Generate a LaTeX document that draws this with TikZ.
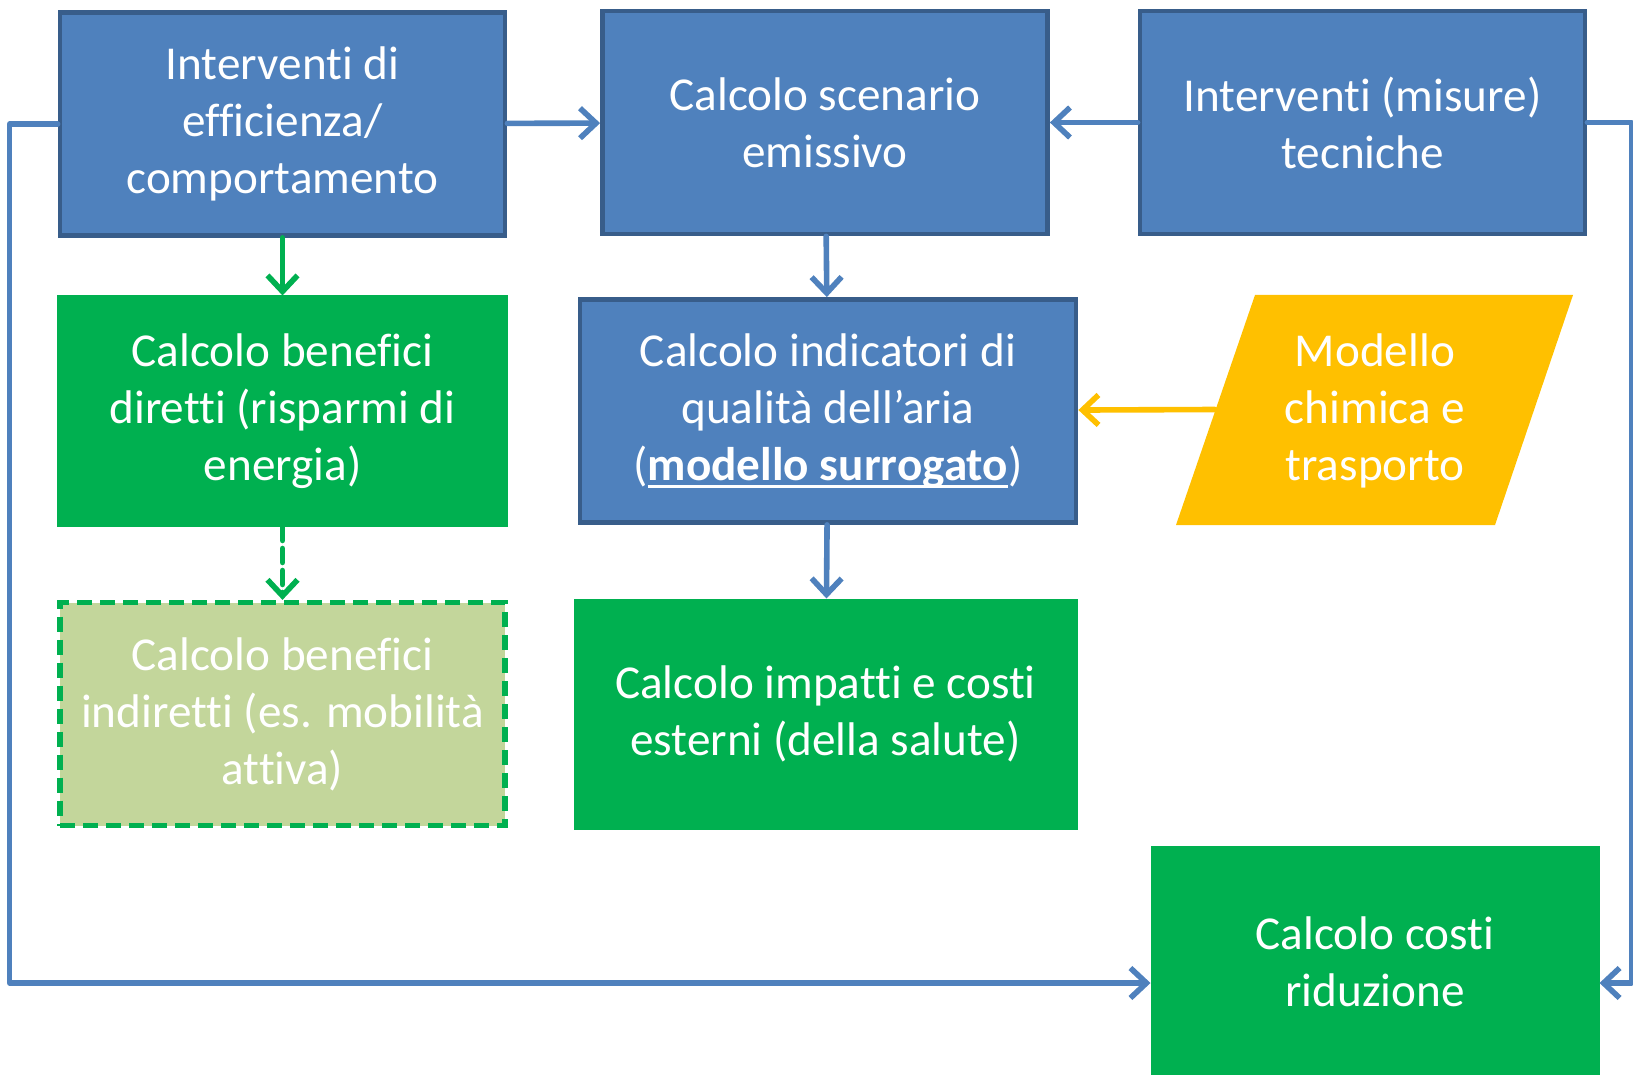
\documentclass[tikz,border=0pt]{standalone}
\usepackage{fontspec}
\setmainfont{Carlito}[Ligatures=NoCommon, RawFeature=-liga]
\usetikzlibrary{arrows.meta}
\definecolor{Bl}{RGB}{79,129,189}
\definecolor{Bd}{RGB}{56,93,138}
\definecolor{Gr}{RGB}{0,176,80}
\definecolor{Gl}{RGB}{195,214,155}
\definecolor{Ye}{RGB}{255,192,0}
\newsavebox\sottobox
\newcommand\sottolinea[1]{\sbox\sottobox{#1}\rlap{\rule[-3.8pt]{\wd\sottobox}{1.3pt}}\usebox\sottobox}

\tikzset{
  testo/.style={text=white, align=center, inner sep=0pt,
    font=\fontsize{23.6}{28.5}\selectfont},
  blu/.style={testo, fill=Bl, draw=Bd, line width=2.4pt,
    minimum width=222.5pt, minimum height=111.5pt},
  verde/.style={testo, fill=Gr, draw=Gr, line width=0.5pt,
    minimum width=225pt, minimum height=115pt},
  freccia/.style={-{Straight Barb[length=8pt,width=15pt]},
    line width=2.8pt, line cap=round, line join=round},
}

\begin{document}
\begin{tikzpicture}[x=0.5pt, y=-0.5pt]
    \useasboundingbox (0,0) rectangle (1633,1075);

    %Prima riga: interventi e scenario
    \node[blu] (eff) at (282.5,124) {Interventi di\\efficienza/\\comportamento};
    \node[blu] (scen) at (825,122.5) {Calcolo scenario\\emissivo};
    \node[blu] (tec) at (1362.5,122.5) {Interventi (misure)\\tecniche};

    %Seconda riga
    \node[verde] (dir) at (282.5,411) {Calcolo benefici\\diretti (risparmi di\\energia)};
    \node[blu, minimum width=248pt] (qual) at (828,411)
        {Calcolo indicatori di\\qualità dell’aria\\(\sottolinea{\textbf{modello surrogato}})};

    %Modello chimica e trasporto (parallelogramma)
    \fill[Ye] (1176,525) -- (1255,295) -- (1573,295) -- (1495,525) -- cycle;
    \node[testo] (chim) at (1375,411) {Modello\\chimica e\\trasporto};
    \coordinate (chimw) at (1215,409.5);

    %Terza riga
    \node[testo, fill=Gl, draw=Gr, line width=2.6pt, dash pattern=on 7.5pt off 4pt,
        minimum width=222.5pt, minimum height=111.5pt] (ind) at (282.5,714)
        {Calcolo benefici\\indiretti (es. mobilità\\attiva)};
    \node[verde, minimum width=251.5pt] (imp) at (825.5,714)
        {Calcolo impatti e costi\\esterni (della salute)};

    %Costi di riduzione
    \node[verde, minimum width=224pt, minimum height=116pt] (cost) at (1375,962)
        {Calcolo costi\\riduzione};

    %Frecce
    \draw[freccia, Bl] (eff) -- (scen);
    \draw[freccia, Bl] (tec) -- (scen);
    \draw[freccia, Bl] (scen) -- (qual);
    \draw[freccia, Bl] (qual) -- (imp);
    \draw[freccia, Gr] (eff) -- (dir);
    \draw[freccia, Gr, dash pattern=on 7pt off 4pt] (dir) -- (ind);
    \draw[freccia, Ye] (chimw) -- (qual);

    %Collegamenti verso i costi
    \draw[freccia, Bl] (eff.west) -- ++(-48,0) |- ([yshift=-10.5pt]cost.west);
    \draw[freccia, Bl] (tec.east) -- ++(44,0) |- ([yshift=-10.5pt]cost.east);
\end{tikzpicture}
\end{document}
